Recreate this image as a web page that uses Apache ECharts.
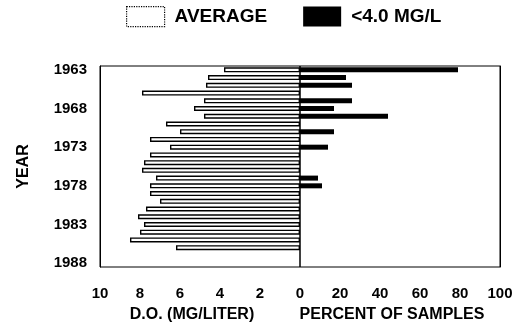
<!DOCTYPE html>
<html>
<head>
<meta charset="utf-8">
<script src="https://cdn.jsdelivr.net/npm/echarts@6/dist/echarts.min.js"></script>
<style>
  html, body { margin: 0; padding: 0; background: #fff; }
  #chart { width: 532px; height: 328px; }
</style>
</head>
<body>
<div id="chart"></div>
<script>
// years on the vertical axis (top to bottom)
const years = ['1963', '1964', '1965', '1966', '1967', '1968', '1969', '1970', '1971', '1972',
  '1973', '1974', '1975', '1976', '1977', '1978', '1979', '1980', '1981', '1982',
  '1983', '1984', '1985', '1986', '1987', '1988'];

// average dissolved oxygen, mg/L
const avgDO = [3.8, 4.6, 4.7, 7.9, 4.8, 5.3, 4.8, 6.7, 6.0, 7.5,
  6.5, 7.5, 7.8, 7.9, 7.2, 7.5, 7.5, 7.0, 7.7, 8.1,
  7.8, 8.0, 8.5, 6.2, null, null];

// percent of samples below 4.0 mg/L
const pctLow = [79, 23, 26, 0, 26, 17, 44, 0, 17, 0,
  14, 0, 0, 0, 9, 11, 0, 0, 0, 0,
  0, 0, 0, 0, null, null];

const doTicks = [0, 2, 4, 6, 8, 10];
const pctTicks = [0, 20, 40, 60, 80, 100];

const font = 'Liberation Sans';
const labelStyle = {color: '#000', fontFamily: font, fontWeight: 'bold', fontSize: 15};
const nameStyle = {color: '#000', fontFamily: font, fontWeight: 'bold', fontSize: 16, padding: [0, 16, 0, 0]};

const chart = echarts.init(document.getElementById('chart'));

const option = {
  backgroundColor: '#fff',
  animation: false,
  legend: {
    left: 121,
    top: 1,
    itemWidth: 38,
    itemHeight: 20,
    itemGap: 36,
    textStyle: {color: '#000', fontFamily: font, fontWeight: 'bold', fontSize: 19, padding: [0, 0, 0, 5]},
    data: [
      {name: 'AVERAGE', icon: 'rect', itemStyle: {color: '#fff', borderColor: '#000', borderWidth: 1.2, borderType: 'dotted'}},
      {name: '<4.0 MG/L', icon: 'rect', itemStyle: {color: '#000'}}
    ]
  },
  grid: [
    {left: 100, right: 232, top: 66, bottom: 60, show: true, borderColor: '#000', borderWidth: 1},
    {left: 300, right: 32, top: 66, bottom: 60, show: true, borderColor: '#000', borderWidth: 1}
  ],
  xAxis: [
    {
      gridIndex: 0,
      type: 'value',
      inverse: true,
      min: doTicks[0],
      max: doTicks[doTicks.length - 1],
      interval: 2,
      name: 'D.O. (MG/LITER)',
      nameLocation: 'middle',
      nameGap: 40,
      nameTextStyle: nameStyle,
      splitLine: {show: false},
      axisLine: {onZero: false, lineStyle: {color: '#000'}},
      axisTick: {inside: true, length: 3, lineStyle: {color: '#000'}},
      axisLabel: Object.assign({margin: 19}, labelStyle)
    },
    {
      gridIndex: 1,
      type: 'value',
      min: pctTicks[0],
      max: pctTicks[pctTicks.length - 1],
      interval: 20,
      name: 'PERCENT OF SAMPLES',
      nameLocation: 'middle',
      nameGap: 40,
      nameTextStyle: nameStyle,
      splitLine: {show: false},
      axisLine: {onZero: false, lineStyle: {color: '#000'}},
      axisTick: {inside: true, length: 3, lineStyle: {color: '#000'}},
      axisLabel: Object.assign({margin: 19, showMinLabel: false}, labelStyle)
    }
  ],
  yAxis: [
    {
      gridIndex: 0,
      type: 'category',
      inverse: true,
      position: 'left',
      data: years,
      name: 'YEAR',
      nameLocation: 'middle',
      nameRotate: 90,
      nameGap: 68,
      nameTextStyle: {color: '#000', fontFamily: font, fontWeight: 'bold', fontSize: 16},
      axisLine: {onZero: false, lineStyle: {color: '#000'}},
      axisTick: {inside: true, length: 3, interval: 4, alignWithLabel: true, lineStyle: {color: '#000'}},
      axisLabel: Object.assign({interval: 4, margin: 13}, labelStyle)
    },
    {
      gridIndex: 1,
      type: 'category',
      inverse: true,
      position: 'right',
      data: years,
      axisLine: {onZero: false, lineStyle: {color: '#000'}},
      axisTick: {show: false},
      axisLabel: {show: false}
    }
  ],
  series: [
    {
      name: 'AVERAGE',
      type: 'bar',
      xAxisIndex: 0,
      yAxisIndex: 0,
      barWidth: 5,
      data: avgDO,
      itemStyle: {color: '#fff', borderColor: '#000', borderWidth: 1.4}
    },
    {
      name: '<4.0 MG/L',
      type: 'bar',
      xAxisIndex: 1,
      yAxisIndex: 1,
      barWidth: 5,
      data: pctLow,
      itemStyle: {color: '#000'}
    }
  ]
};

chart.setOption(option);
</script>
</body>
</html>
